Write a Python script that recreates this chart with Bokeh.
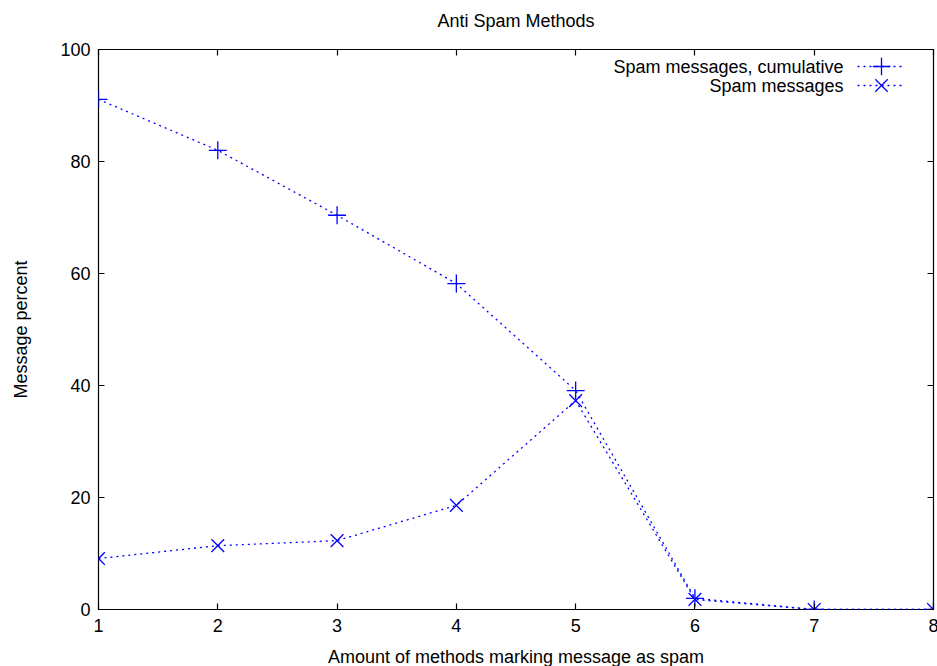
from bokeh.plotting import figure
from bokeh.models import (LinearAxis, Range1d, FixedTicker, Legend, LegendItem,
                          CustomLabelingPolicy, Label)
from bokeh.embed import file_html
from bokeh.resources import INLINE

methods = [1, 2, 3, 4, 5, 6, 7, 8]
cumulative = [91.1, 82.0, 70.4, 58.2, 39.1, 2.0, 0.0, 0.0]
spam = [9.1, 11.4, 12.3, 18.6, 37.3, 1.8, 0.0, 0.0]
x_ticks = [1, 2, 3, 4, 5, 6, 7, 8]
y_ticks = [0, 20, 40, 60, 80, 100]
series_names = ["Spam messages, cumulative", "Spam messages"]

FONT = "Liberation Sans"
FS = "18px"
BLUE = "#0000ff"

p = figure(width=921, height=650, output_backend="svg", toolbar_location=None,
           x_range=Range1d(1, 8), y_range=Range1d(0, 100),
           x_axis_location=None, y_axis_location=None,
           min_border_left=98, min_border_right=4, min_border_top=46, min_border_bottom=60,
           title="Anti Spam Methods")
p.frame_width = 835
p.frame_height = 560
p.title.align = "center"
p.title.text_font = FONT
p.title.text_font_size = FS
p.title.text_font_style = "normal"
p.title.text_color = "black"
p.title.standoff = 16
p.grid.visible = False
p.outline_line_color = "black"
p.outline_line_width = 1.2
p.background_fill_color = "white"
p.border_fill_color = "white"

hide_all = CustomLabelingPolicy(code="""
const a = [...indices];
for (const i of a) { indices.unset(i) }
return indices
""")

def make_axis(ticks, show_labels, label=None, tick_standoff=6, label_standoff=8):
    ax = LinearAxis(ticker=FixedTicker(ticks=ticks))
    ax.major_tick_in = 6
    ax.major_tick_out = 0
    ax.minor_tick_line_color = None
    ax.axis_line_color = None
    ax.major_tick_line_color = "black"
    ax.major_tick_line_width = 1.2
    if show_labels:
        ax.major_label_text_font = FONT
        ax.major_label_text_font_size = FS
        ax.major_label_text_color = "black"
        ax.major_label_standoff = tick_standoff
    else:
        ax.major_label_policy = hide_all
        ax.major_label_standoff = 0
    if label:
        ax.axis_label = label
        ax.axis_label_text_font = FONT
        ax.axis_label_text_font_size = FS
        ax.axis_label_text_font_style = "normal"
        ax.axis_label_text_color = "black"
        ax.axis_label_standoff = label_standoff
    return ax

p.add_layout(make_axis(x_ticks, True, "Amount of methods marking message as spam",
                       tick_standoff=9, label_standoff=12), "below")
p.add_layout(make_axis(y_ticks, True, "Message percent",
                       tick_standoff=8, label_standoff=26), "left")
p.add_layout(make_axis(x_ticks, False), "above")
p.add_layout(make_axis(y_ticks, False), "right")

l1 = p.line(methods, cumulative, line_color=BLUE, line_dash="2 4", line_width=1.3)
s1 = p.scatter(methods, cumulative, marker="cross", size=18, line_color=BLUE, line_width=1.3)
l2 = p.line(methods, spam, line_color=BLUE, line_dash="2 4", line_width=1.3)
s2 = p.scatter(methods, spam, marker="x", size=18, line_color=BLUE, line_width=1.3)

# gnuplot-style key: right-aligned text, sample (line + big marker) to its right
row_offsets = [-17, -36]          # px below the top of the frame
for name, dy in zip(series_names, row_offsets):
    p.add_layout(Label(x=8, y=100, x_units="data", y_units="data", x_offset=-90, y_offset=dy,
                       text=name, text_align="right", text_baseline="middle",
                       text_font=FONT, text_font_size=FS, text_color="black"))

frame_h = 560
for rends, dy in zip([[l1, s1], [l2, s2]], row_offsets):
    gh = 44
    key = Legend(items=[LegendItem(label=" ", renderers=rends)],
                 location=(759, frame_h + dy - gh / 2))
    key.background_fill_alpha = 0
    key.border_line_color = None
    key.padding = 0
    key.margin = 0
    key.spacing = 0
    key.glyph_width = 48
    key.glyph_height = gh
    key.label_height = gh
    key.label_standoff = 0
    key.label_text_font_size = "4px"
    key.click_policy = "none"
    p.add_layout(key)

open("out.html", "w").write(file_html(p, INLINE))
